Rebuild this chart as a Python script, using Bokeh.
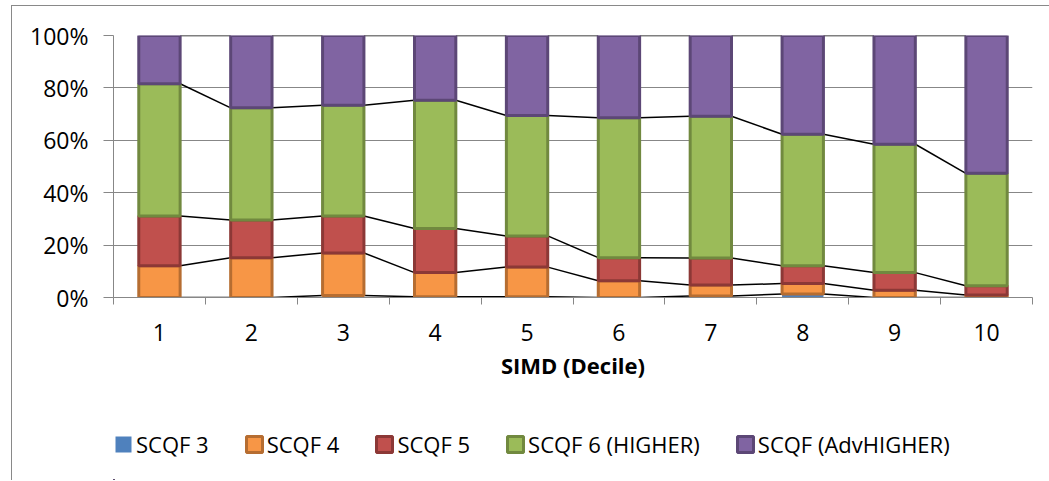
from bokeh.plotting import figure
from bokeh.layouts import column
from bokeh.models import (Range1d, FixedTicker, NumeralTickFormatter, Legend,
                          LegendItem, ColumnDataSource)
from bokeh.embed import file_html
from bokeh.resources import INLINE

# ---- data (percent of pupils per SIMD decile) ----
deciles = [1, 2, 3, 4, 5, 6, 7, 8, 9, 10]
tick_labels = ["1", "2", "3", "4", "5", "6", "7", "8", "9", "10"]
series_names = ["SCQF 3", "SCQF 4", "SCQF 5", "SCQF 6 (HIGHER)", "SCQF (AdvHIGHER)"]
scqf3 = [0.0, 0.0, 0.8, 0.3, 0.3, 0.0, 0.6, 1.3, 0.0, 0.0]
scqf4 = [12.1, 15.2, 16.2, 9.2, 11.3, 6.4, 4.2, 4.0, 2.8, 1.0]
scqf5 = [19.0, 14.4, 14.1, 16.8, 11.9, 8.8, 10.3, 6.8, 6.7, 3.5]
scqf6 = [50.5, 42.8, 42.3, 49.0, 46.0, 53.4, 54.1, 50.2, 49.0, 42.9]
scqf_adv = [18.4, 27.6, 26.6, 24.7, 30.5, 31.4, 30.8, 37.7, 41.5, 52.6]

fills = ["#4F81BD", "#F79646", "#C0504D", "#9BBB59", "#8064A2"]
borders = ["#4F81BD", "#B66D31", "#8C3836", "#71893F", "#5C4776"]
FONT = "Open Sans"
GRAY = "#878787"
BAR_W = 0.45

keys = ["s3", "s4", "s5", "s6", "adv"]
all_series = [scqf3, scqf4, scqf5, scqf6, scqf_adv]
data = {"x": deciles}
for k, vals in zip(keys, all_series):
    data[k] = [v / 100.0 for v in vals]
source = ColumnDataSource(data)

BORDER = {"border-width": "1px 0px 0px 1px", "border-style": "solid",
          "border-color": "#898989"}

p = figure(width=1040, height=394,
           x_range=Range1d(0.5, 10.5), y_range=Range1d(0, 1),
           output_backend="svg", toolbar_location=None,
           min_border_left=101, min_border_right=20,
           min_border_top=29, min_border_bottom=103,
           margin=(5, 0, 0, 11), styles=BORDER)
p.outline_line_color = None
p.background_fill_color = "white"
p.border_fill_color = "white"

# ---- series lines between stacked segments ----
cum = [0.0] * len(deciles)
levels = []
for vals in all_series:
    cum = [c + v / 100.0 for c, v in zip(cum, vals)]
    levels.append(list(cum))
x0s, y0s, x1s, y1s = [], [], [], []
for lev in levels:
    for i in range(len(deciles) - 1):
        x0s.append(deciles[i] + BAR_W / 2)
        y0s.append(lev[i])
        x1s.append(deciles[i + 1] - BAR_W / 2)
        y1s.append(lev[i + 1])
p.segment(x0=x0s, y0=y0s, x1=x1s, y1=y1s, line_color="black", line_width=1.5)

# ---- stacked bars ----
line_alphas = [0, 1, 1, 1, 1]
rs = p.vbar_stack(keys, x="x", width=BAR_W, source=source,
                  fill_color=fills, line_color=borders,
                  line_alpha=line_alphas, line_width=3)

# ---- axes ----
yticks = [0, 0.2, 0.4, 0.6, 0.8, 1.0]
p.xgrid.visible = False
p.ygrid.grid_line_color = GRAY
p.ygrid.grid_line_width = 1
p.ygrid.ticker = FixedTicker(ticks=yticks)

p.yaxis.ticker = FixedTicker(ticks=yticks)
p.yaxis.formatter = NumeralTickFormatter(format="0%")
p.yaxis.axis_line_color = GRAY
p.yaxis.major_tick_line_color = GRAY
p.yaxis.major_tick_out = 10
p.yaxis.major_tick_in = 0
p.yaxis.minor_tick_line_color = None
p.yaxis.major_label_text_font = FONT
p.yaxis.major_label_text_font_size = "23px"
p.yaxis.major_label_text_color = "black"
p.yaxis.major_label_standoff = 15

minor = [d - 0.5 for d in deciles] + [deciles[-1] + 0.5]
p.xaxis.ticker = FixedTicker(ticks=deciles, minor_ticks=minor)
p.xaxis.major_label_overrides = {d: t for d, t in zip(deciles, tick_labels)}
p.xaxis.axis_line_color = GRAY
p.xaxis.major_tick_line_color = None
p.xaxis.major_tick_out = 0
p.xaxis.major_tick_in = 0
p.xaxis.minor_tick_line_color = GRAY
p.xaxis.minor_tick_out = 7
p.xaxis.minor_tick_in = 0
p.xaxis.major_label_text_font = FONT
p.xaxis.major_label_text_font_size = "23px"
p.xaxis.major_label_text_color = "black"
p.xaxis.major_label_standoff = 19
p.xaxis.axis_label = "SIMD (Decile)"
p.xaxis.axis_label_text_font = FONT
p.xaxis.axis_label_text_font_size = "22px"
p.xaxis.axis_label_text_font_style = "bold"
p.xaxis.axis_label_text_color = "black"
p.xaxis.axis_label_standoff = 6

# ---- legend, in its own strip below the chart ----
# (the strip's ranges lie far from the data, so its bars stay out of view)
p2 = figure(width=1040, height=81, x_range=Range1d(100, 101), y_range=Range1d(100, 101),
            output_backend="svg", toolbar_location=None,
            min_border=0, margin=(0, 0, 0, 11),
            styles={"border-width": "0px 0px 0px 1px", "border-style": "solid",
                    "border-color": "#898989"})
p2.axis.visible = False
p2.grid.visible = False
p2.outline_line_color = None
p2.background_fill_color = "white"
p2.border_fill_color = "white"
legend_rs = p2.vbar_stack(keys, x="x", width=BAR_W, source=source,
                          fill_color=fills, line_color=borders,
                          line_alpha=line_alphas, line_width=3)
items = [LegendItem(label=n, renderers=[r]) for n, r in zip(series_names, legend_rs)]
legend = Legend(items=items, orientation="horizontal", location=(0, 21),
                label_text_font=FONT, label_text_font_size="22px",
                label_text_color="black", glyph_width=20, glyph_height=20,
                label_standoff=3, spacing=35, padding=0, margin=0,
                border_line_color=None, background_fill_alpha=0)
p2.add_layout(legend)

layout = column(p, p2, spacing=0, width=1049, styles={"overflow": "hidden"})
open("out.html", "w").write(file_html(layout, INLINE))
